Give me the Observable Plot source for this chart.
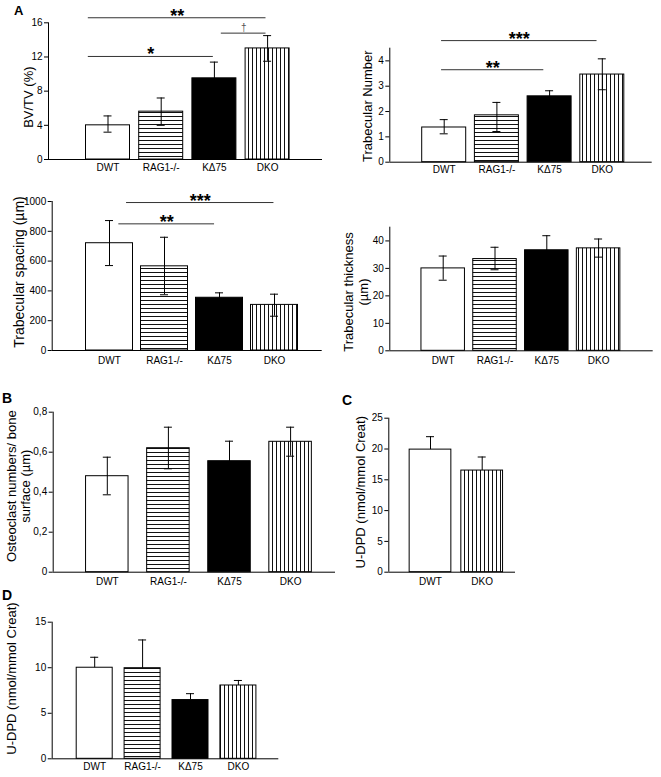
<!DOCTYPE html>
<html>
<head>
<meta charset="utf-8">
<script src="https://cdn.jsdelivr.net/npm/d3@7"></script>
<script src="https://cdn.jsdelivr.net/npm/@observablehq/plot@0.6"></script>
<style>
  html, body { margin: 0; padding: 0; background: #fff; }
  #root { position: relative; width: 661px; height: 777px; overflow: hidden; font-family: "Liberation Sans", Arial, sans-serif; }
  .plabel { position: absolute; font-weight: bold; font-family: "Liberation Sans", Arial, sans-serif; color: #000; line-height: 1; }
</style>
</head>
<body>
<div id="root">
  <svg width="0" height="0" style="position:absolute">
    <defs>
      <pattern id="hstripe" patternUnits="userSpaceOnUse" width="8" height="4">
        <rect width="8" height="4" fill="#fff"/>
        <line x1="0" y1="0.5" x2="8" y2="0.5" stroke="#111" stroke-width="1"/>
      </pattern>
      <pattern id="vstripe" patternUnits="userSpaceOnUse" width="4" height="8">
        <rect width="4" height="8" fill="#fff"/>
        <line x1="0.5" y1="0" x2="0.5" y2="8" stroke="#111" stroke-width="1"/>
      </pattern>
    </defs>
  </svg>
</div>
<script>
// ---------------- DATA ----------------
const categories = ["DWT", "RAG1-/-", "KΔ75", "DKO"];
const categoriesC = ["DWT", "DKO"];

// A: BV/TV (%)
const bvtvMean = [4.0, 5.6, 9.5, 13.0];
const bvtvLow  = [3.2, 4.0, 7.6, 11.5];
const bvtvHigh = [5.1, 7.2, 11.4, 14.5];
const bvtvTicks = [0, 4, 8, 12, 16];
const bvtvSig = [
  {label: "**", from: -0.37, to: 2.97, level: 16.59},
  {label: "*",  from: -0.37, to: 1.98, level: 12.06},
  {label: "†",  from: 2.13,  to: 2.97, level: 14.79}
];

// A: Trabecular Number
const tbnMean = [1.37, 1.85, 2.6, 3.46];
const tbnLow  = [1.12, 1.21, 2.4, 2.86];
const tbnHigh = [1.68, 2.36, 2.82, 4.08];
const tbnTicks = [0, 1, 2, 3, 4];
const tbnSig = [
  {label: "***", from: -0.05, to: 2.90, level: 4.80},
  {label: "**",  from: -0.05, to: 1.89, level: 3.65}
];

// A: Trabecular spacing (µm)
const tbspMean = [720, 565, 354, 306];
const tbspLow  = [570, 374, 320, 230];
const tbspHigh = [872, 760, 387, 378];
const tbspTicks = [0, 200, 400, 600, 800, 1000];
const tbspSig = [
  {label: "***", from: 0.31, to: 2.99, level: 993},
  {label: "**",  from: 0.17, to: 1.91, level: 850}
];

// A: Trabecular thickness (µm)
const tbthMean = [30.0, 33.4, 36.6, 37.3];
const tbthLow  = [25.7, 29.5, 31.3, 34.1];
const tbthHigh = [34.5, 37.7, 41.9, 40.7];
const tbthTicks = [0, 10, 20, 30, 40];

// B: Osteoclast numbers / bone surface
const ocMean = [0.48, 0.62, 0.555, 0.652];
const ocLow  = [0.387, 0.517, 0.46, 0.58];
const ocHigh = [0.575, 0.725, 0.655, 0.725];
const ocTicks = [0, 0.2, 0.4, 0.6, 0.8];

// C: U-DPD, DWT vs DKO
const udpdCMean = [19.9, 16.5];
const udpdCHigh = [22.0, 18.7];
const udpdCTicks = [0, 5, 10, 15, 20, 25];

// D: U-DPD, four groups
const udpdDMean = [10.0, 9.95, 6.45, 8.05];
const udpdDHigh = [11.15, 13.05, 7.15, 8.6];
const udpdDTicks = [0, 5, 10, 15];

// ---------------- STYLE ----------------
const FONT = '"Liberation Sans", Arial, sans-serif';
const fillOf = {"DWT": "#ffffff", "RAG1-/-": "url(#hstripe)", "KΔ75": "#000000", "DKO": "url(#vstripe)"};

const root = document.getElementById("root");

function panel(o) {
  const L = o.layout;
  const data = o.cats.map((c, i) => ({
    i, cat: c, v: o.mean[i],
    lo: o.low ? o.low[i] : o.mean[i],
    hi: o.high[i],
    fill: fillOf[c]
  }));
  const hb = L.bw / 2 / L.step;
  const cap = 4 / L.step;
  const x0 = (L.ax - L.c0) / L.step;
  const x1 = (L.ae - L.c0) / L.step;
  const marks = [
    Plot.rect(data, {x1: d => d.i - hb, x2: d => d.i + hb, y1: 0, y2: "v", fill: "fill", stroke: "#000", strokeWidth: 1}),
    Plot.ruleX(data, {x: "i", y1: "lo", y2: "hi", stroke: "#000", strokeWidth: 1}),
    Plot.ruleY(data, {y: "hi", x1: d => d.i - cap, x2: d => d.i + cap, stroke: "#000", strokeWidth: 1}),
    Plot.ruleX([x0], {stroke: "#000", strokeWidth: 1}),
    Plot.ruleY([0], {stroke: "#000", strokeWidth: 1}),
    Plot.axisY({ticks: o.ticks, tickSize: 4, tickPadding: 2, label: null, fontSize: 10,
      tickFormat: o.tickFormat || (d => String(d))}),
    Plot.text(data, {x: "i", y: 0, text: "cat", dy: o.xdy || 9, lineAnchor: "middle", fontSize: 10, fill: "#000"}),
    Plot.text([o.title], {frameAnchor: "left", rotate: -90, dx: o.tdx, dy: o.tdy || 0,
      fontSize: o.tfs || 13, lineHeight: o.tlh || 1.2, textAnchor: "middle", lineAnchor: "middle", fill: "#000"})
  ];
  if (o.low) {
    marks.splice(3, 0, Plot.ruleY(data, {y: "lo", x1: d => d.i - cap, x2: d => d.i + cap, stroke: "#000", strokeWidth: 1}));
  }
  if (o.sig) {
    marks.push(Plot.ruleY(o.sig, {y: "level", x1: "from", x2: "to", stroke: "#333", strokeWidth: 1}));
    const stars = o.sig.filter(d => d.label !== "†");
    const daggers = o.sig.filter(d => d.label === "†");
    marks.push(Plot.text(stars, {x: d => (d.from + d.to) / 2, y: "level", text: "label",
      fontSize: 18, fontWeight: "bold", lineAnchor: "bottom", dy: 4, fill: "#000"}));
    if (daggers.length) marks.push(Plot.text(daggers, {x: d => (d.from + d.to) / 2, y: "level", text: "label",
      fontSize: 10, lineAnchor: "bottom", dy: -2, fill: "#555"}));
  }
  const svg = Plot.plot({
    width: L.width, height: L.height,
    marginLeft: L.ax - L.left,
    marginRight: L.left + L.width - L.ae,
    marginTop: L.yt - L.top,
    marginBottom: L.top + L.height - L.y0,
    style: {background: "transparent", overflow: "visible", fontFamily: FONT, fontSize: "10px", color: "#000"},
    x: {domain: [x0, x1], axis: null},
    y: {domain: [0, o.ticks[o.ticks.length - 1] * (o.yExtra || 1)], axis: null},
    color: {type: "identity"},
    marks
  });
  svg.style.position = "absolute";
  svg.style.left = L.left + "px";
  svg.style.top = L.top + "px";
  root.appendChild(svg);
}

panel({
  cats: categories, mean: bvtvMean, low: bvtvLow, high: bvtvHigh, ticks: bvtvTicks, sig: bvtvSig,
  title: "BV/TV (%)", tdx: -21, tdy: 6, xdy: 8,
  layout: {left: 0, top: 0, width: 330, height: 180, ax: 48, ae: 322, y0: 159, yt: 22.3, c0: 107.5, step: 53.2, bw: 44}
});
panel({
  cats: categories, mean: tbnMean, low: tbnLow, high: tbnHigh, ticks: tbnTicks, yExtra: 1.125, sig: tbnSig,
  title: "Trabecular Number", tdx: -23, tdy: 1, xdy: 8,
  layout: {left: 330, top: 0, width: 331, height: 180, ax: 389.3, ae: 651.7, y0: 161.7, yt: 47.7, c0: 443.7, step: 52.7, bw: 44}
});
panel({
  cats: categories, mean: tbspMean, low: tbspLow, high: tbspHigh, ticks: tbspTicks, sig: tbspSig,
  title: "Trabecular spacing (µm)", tdx: -34, tdy: -4, xdy: 10, tfs: 14,
  layout: {left: 0, top: 180, width: 330, height: 195, ax: 51.7, ae: 321.7, y0: 350, yt: 201, c0: 109, step: 55, bw: 47}
});
panel({
  cats: categories, mean: tbthMean, low: tbthLow, high: tbthHigh, ticks: tbthTicks, yExtra: 1.125,
  title: "Trabecular thickness\n(µm)", tdx: -34, tdy: 3, tlh: 1.15, xdy: 10,
  layout: {left: 330, top: 180, width: 331, height: 195, ax: 389.3, ae: 652.7, y0: 350.3, yt: 226.7, c0: 442.7, step: 51.8, bw: 43.5}
});
panel({
  cats: categories, mean: ocMean, low: ocLow, high: ocHigh, ticks: ocTicks,
  tickFormat: d => d === 0 ? "0" : d.toFixed(1).replace(".", ","),
  title: "Osteoclast numbers/ bone\nsurface (µm)", tdx: -35, tdy: -6, tlh: 1.15, xdy: 10,
  layout: {left: 0, top: 380, width: 340, height: 215, ax: 52.7, ae: 335, y0: 571.7, yt: 411.7, c0: 106.8, step: 61.1, bw: 42.5}
});
panel({
  cats: categoriesC, mean: udpdCMean, high: udpdCHigh, ticks: udpdCTicks,
  title: "U-DPD (nmol/mmol Creat)", tdx: -29, tdy: -3, xdy: 10,
  layout: {left: 340, top: 380, width: 200, height: 215, ax: 388.3, ae: 515, y0: 571.7, yt: 417.7, c0: 430, step: 51.7, bw: 41.7}
});
panel({
  cats: categories, mean: udpdDMean, high: udpdDHigh, ticks: udpdDTicks,
  title: "U-DPD (nmol/mmol Creat)", tdx: -41, tdy: -12, xdy: 8,
  layout: {left: 0, top: 600, width: 330, height: 177, ax: 51.7, ae: 278.3, y0: 758.3, yt: 621.7, c0: 94.2, step: 47.9, bw: 36}
});

// panel letters
[["A", 14, 4, 13], ["B", 2, 391, 14], ["C", 342, 393, 14], ["D", 2, 588, 14]].forEach(([t, x, y, fs]) => {
  const s = document.createElement("div");
  s.className = "plabel";
  s.textContent = t;
  s.style.left = x + "px";
  s.style.top = y + "px";
  s.style.fontSize = fs + "px";
  root.appendChild(s);
});
</script>
</body>
</html>
